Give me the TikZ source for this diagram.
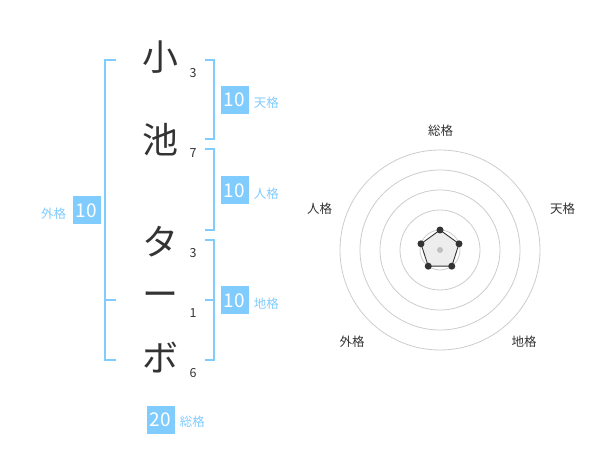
\documentclass[tikz,border=0pt]{standalone}
\usepackage{fontspec}
\setmainfont{Noto Sans CJK JP}
\usetikzlibrary{calc}
\definecolor{kakublue}{HTML}{80CCFF}
\definecolor{sumi}{HTML}{333333}
\tikzstyle{moji} = [text=sumi, font=\fontsize{36}{36}\selectfont, inner sep=0pt]
\tikzstyle{kakusu} = [text=sumi, font=\fontsize{12.5}{13}\selectfont, inner sep=0pt]
\tikzstyle{hako} = [rectangle, fill=kakublue, text=white, minimum width=28pt, minimum height=28pt, inner sep=0pt, font=\fontsize{19}{19}\selectfont]
\tikzstyle{kakumei} = [text=kakublue, font=\fontsize{12.5}{13}\selectfont, inner sep=0pt]
\tikzstyle{kakko} = [draw=kakublue, line width=2pt]
\tikzstyle{ensen} = [draw=black!20, line width=0.8pt]
\tikzstyle{jiku} = [text=sumi, font=\fontsize{12.5}{13}\selectfont, inner sep=0pt]

\begin{document}
\begin{tikzpicture}[x=1pt, y=-1pt]

        \useasboundingbox (0,0) rectangle (600,470);

        %% name
        \node (C1) [moji] at (160,57.5) {小};
        \node (C2) [moji] at (160,140) {池};
        \node (C3) [moji] at (160,242) {タ};
        \node (C4) [moji] at (160,300) {ー};
        \node (C5) [moji] at (160,358) {ボ};

        \node (K1) [kakusu] at (193,73) {3};
        \node (K2) [kakusu] at (193,153) {7};
        \node (K3) [kakusu] at (193,253) {3};
        \node (K4) [kakusu] at (193,313) {1};
        \node (K5) [kakusu] at (193,373) {6};

        %% brackets
        \draw[kakko] (116,60) -- (105,60) -- (105,360) -- (116,360);
        \draw[kakko] (105,300) -- (116,300);

        \draw[kakko] (205,60) -- (214,60) -- (214,139) -- (205,139);
        \draw[kakko] (205,149) -- (214,149) -- (214,230) -- (205,230);
        \draw[kakko] (205,240) -- (214,240) -- (214,360) -- (205,360);
        \draw[kakko] (205,300) -- (214,300);

        %% scores
        \node (T) [hako] at (234.5,100) {10};
        \node (J) [hako] at (234.5,190.5) {10};
        \node (C) [hako] at (234.5,300.5) {10};
        \node (G) [hako] at (86.5,210.5) {10};
        \node (S) [hako] at (160.5,419.5) {20};

        \node (Tl) [kakumei, anchor=west] at ($(T.east) + (5,3)$) {天格};
        \node (Jl) [kakumei, anchor=west] at ($(J.east) + (5,3)$) {人格};
        \node (Cl) [kakumei, anchor=west] at ($(C.east) + (5,3)$) {地格};
        \node (Gl) [kakumei, anchor=east] at ($(G.west) + (-6,3.5)$) {外格};
        \node (Sl) [kakumei, anchor=west] at ($(S.east) + (5,2.5)$) {総格};

        %% radar
        \coordinate (R0) at (440,250);
        \foreach \r in {20,40,60,80,100}
            \draw[ensen] (R0) circle (\r);

        \coordinate (P1) at ($(R0) + (-90:20)$);
        \coordinate (P2) at ($(R0) + (-18:20)$);
        \coordinate (P3) at ($(R0) + (54:20)$);
        \coordinate (P4) at ($(R0) + (126:20)$);
        \coordinate (P5) at ($(R0) + (-162:20)$);
        \draw[fill=black!7, draw=sumi, line width=0.9pt] (P1) -- (P2) -- (P3) -- (P4) -- (P5) -- cycle;
        \fill[black!25] (R0) circle (3);
        \foreach \p in {P1,P2,P3,P4,P5}
            \fill[sumi] (\p) circle (3.5);

        \node (A1) [jiku] at (440.5,130.5) {総格};
        \node (A2) [jiku] at (562.5,208.5) {天格};
        \node (A3) [jiku] at (524,342) {地格};
        \node (A4) [jiku] at (352,342) {外格};
        \node (A5) [jiku] at (319.5,208.5) {人格};

\end{tikzpicture}
\end{document}
